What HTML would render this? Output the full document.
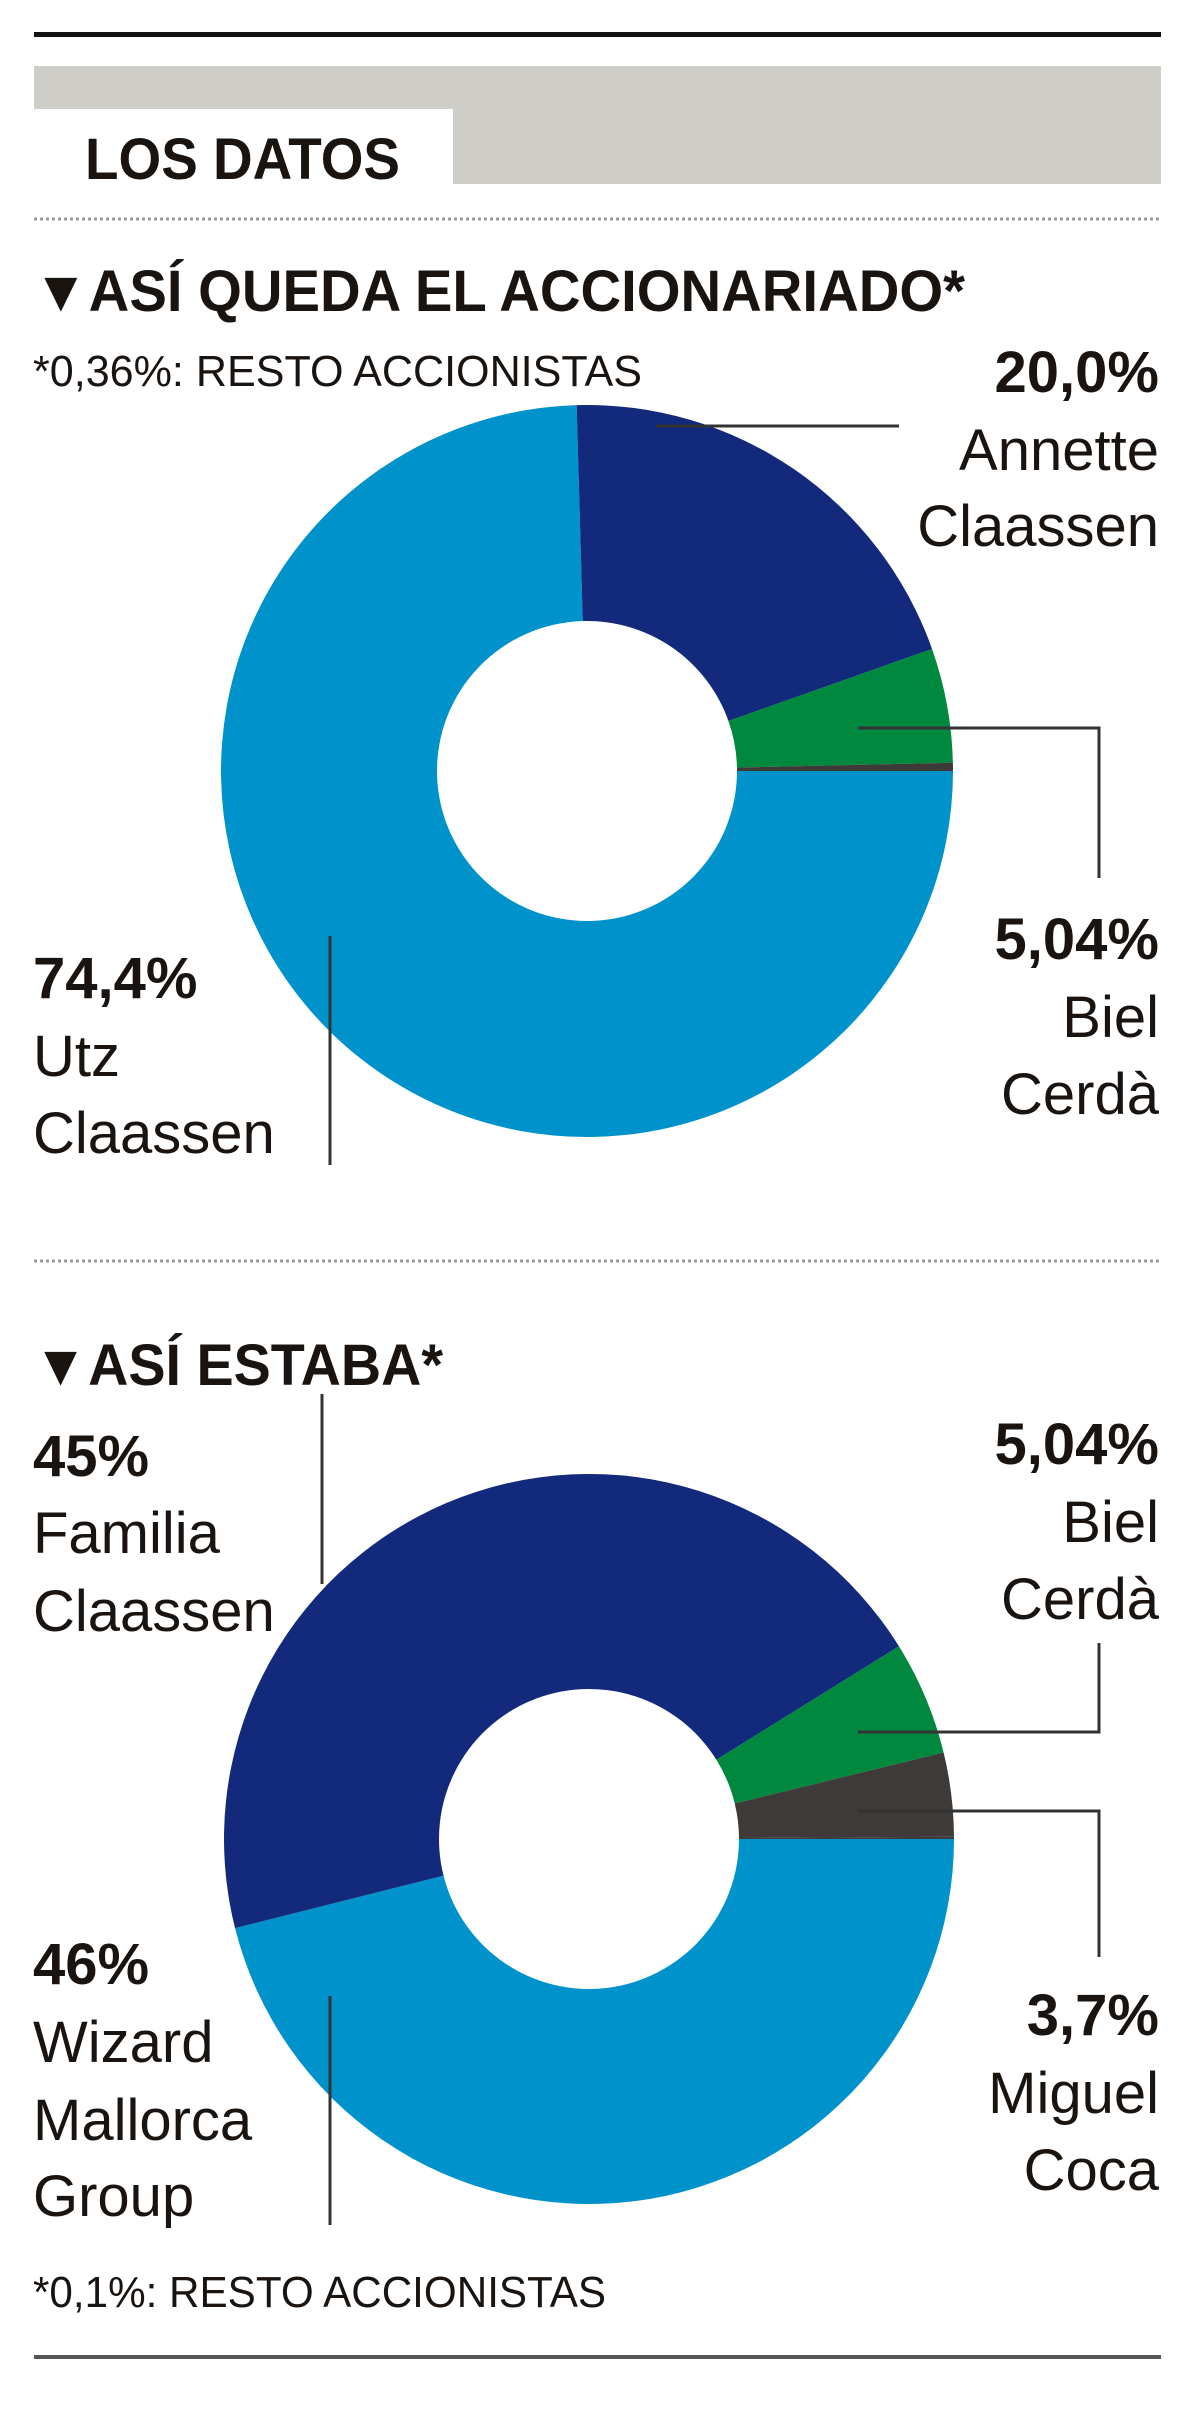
<!DOCTYPE html>
<html><head><meta charset="utf-8">
<style>
html,body{margin:0;padding:0;background:#fff;}
svg{display:block;}
text{font-family:"Liberation Sans",sans-serif;fill:#1a1410;}
.b{font-weight:bold;}
</style></head>
<body>
<svg id="chart" width="1200" height="2413" viewBox="0 0 1200 2413" xmlns="http://www.w3.org/2000/svg">
  <rect x="34" y="32" width="1127" height="5" fill="#111"/>
  <rect x="34" y="66" width="1127" height="118" fill="#cfcdc8"/>
  <rect x="34" y="109" width="419" height="75" fill="#fff"/>
  <text class="b" x="85" y="179" font-size="58" textLength="315" lengthAdjust="spacingAndGlyphs">LOS DATOS</text>
  <line x1="34" y1="219" x2="1161" y2="219" stroke="#999" stroke-width="3" stroke-dasharray="3,3"/>

  <text class="b" x="33" y="311" font-size="58" textLength="932" lengthAdjust="spacingAndGlyphs">▼ASÍ QUEDA EL ACCIONARIADO*</text>
  <text x="33" y="386" font-size="44" textLength="609" lengthAdjust="spacingAndGlyphs">*0,36%: RESTO ACCIONISTAS</text>
  <g id="donut1"></g>

  <g stroke="#333" stroke-width="3" fill="none">
    <polyline points="656,426 899,426"/>
    <polyline points="858,728 1099,728 1099,878"/>
    <polyline points="330,936 330,1165"/>
  </g>
  <g text-anchor="end">
    <text class="b" x="1159" y="392" font-size="58">20,0%</text>
    <text x="1159" y="470" font-size="58">Annette</text>
    <text x="1159" y="546" font-size="58">Claassen</text>
  </g>
  <g text-anchor="end">
    <text class="b" x="1159" y="959" font-size="58">5,04%</text>
    <text x="1159" y="1037" font-size="58">Biel</text>
    <text x="1159" y="1114" font-size="58">Cerdà</text>
  </g>
  <g>
    <text class="b" x="33" y="998" font-size="58">74,4%</text>
    <text x="33" y="1076" font-size="58">Utz</text>
    <text x="33" y="1153" font-size="58">Claassen</text>
  </g>

  <line x1="34" y1="1261" x2="1161" y2="1261" stroke="#999" stroke-width="3" stroke-dasharray="3,3"/>
  <text class="b" x="33" y="1385" font-size="58" textLength="410" lengthAdjust="spacingAndGlyphs">▼ASÍ ESTABA*</text>
  <g id="donut2"></g>

  <g stroke="#333" stroke-width="3" fill="none">
    <polyline points="322,1394 322,1584"/>
    <polyline points="330,1996 330,2225"/>
    <polyline points="1099,1643 1099,1732 858,1732"/>
    <polyline points="858,1811 1099,1811 1099,1957"/>
  </g>
  <g>
    <text class="b" x="33" y="1476" font-size="58">45%</text>
    <text x="33" y="1553" font-size="58">Familia</text>
    <text x="33" y="1631" font-size="58">Claassen</text>
  </g>
  <g>
    <text class="b" x="33" y="1984" font-size="58">46%</text>
    <text x="33" y="2062" font-size="58">Wizard</text>
    <text x="33" y="2140" font-size="58">Mallorca</text>
    <text x="33" y="2216" font-size="58">Group</text>
  </g>
  <g text-anchor="end">
    <text class="b" x="1159" y="1464" font-size="58">5,04%</text>
    <text x="1159" y="1542" font-size="58">Biel</text>
    <text x="1159" y="1619" font-size="58">Cerdà</text>
  </g>
  <g text-anchor="end">
    <text class="b" x="1159" y="2035" font-size="58">3,7%</text>
    <text x="1159" y="2113" font-size="58">Miguel</text>
    <text x="1159" y="2190" font-size="58">Coca</text>
  </g>
  <text x="33" y="2307" font-size="44" textLength="573" lengthAdjust="spacingAndGlyphs">*0,1%: RESTO ACCIONISTAS</text>
  <rect x="34" y="2355" width="1127" height="4" fill="#555"/>
</svg>
<script>
const names1 = ["Utz Claassen", "Annette Claassen", "Biel Cerdà", "Resto accionistas"];
const values1 = [74.4, 20.0, 5.04, 0.36];
const colors1 = ["#0092cb", "#13297b", "#00883f", "#3d3a37"];
const names2 = ["Wizard Mallorca Group", "Familia Claassen", "Biel Cerdà", "Miguel Coca", "Resto accionistas"];
const values2 = [46, 45, 5.04, 3.7, 0.1];
const colors2 = ["#0092cb", "#13297b", "#00883f", "#3d3a37", "#3d3a37"];

const NS = "http://www.w3.org/2000/svg";
function pt(cx, cy, r, deg) {
  const a = deg * Math.PI / 180;
  return [cx + r * Math.sin(a), cy - r * Math.cos(a)];
}
function drawDonut(gid, names, values, colors, cx, cy, ro, ri) {
  const g = document.getElementById(gid);
  const total = values.reduce((s, v) => s + v, 0);
  let ang = 90;
  values.forEach((v, i) => {
    const sweep = v / total * 360;
    const a0 = ang, a1 = ang + sweep;
    const large = sweep > 180 ? 1 : 0;
    const p0 = pt(cx, cy, ro, a0), p1 = pt(cx, cy, ro, a1);
    const q1 = pt(cx, cy, ri, a1), q0 = pt(cx, cy, ri, a0);
    const d = `M${p0[0]},${p0[1]} A${ro},${ro} 0 ${large} 1 ${p1[0]},${p1[1]} L${q1[0]},${q1[1]} A${ri},${ri} 0 ${large} 0 ${q0[0]},${q0[1]} Z`;
    const path = document.createElementNS(NS, "path");
    path.setAttribute("d", d);
    path.setAttribute("fill", colors[i]);
    
    
    g.appendChild(path);
    ang = a1;
  });
}
drawDonut("donut1", names1, values1, colors1, 587, 771, 366, 150);
drawDonut("donut2", names2, values2, colors2, 589, 1839, 365, 150);
</script>
</body></html>
